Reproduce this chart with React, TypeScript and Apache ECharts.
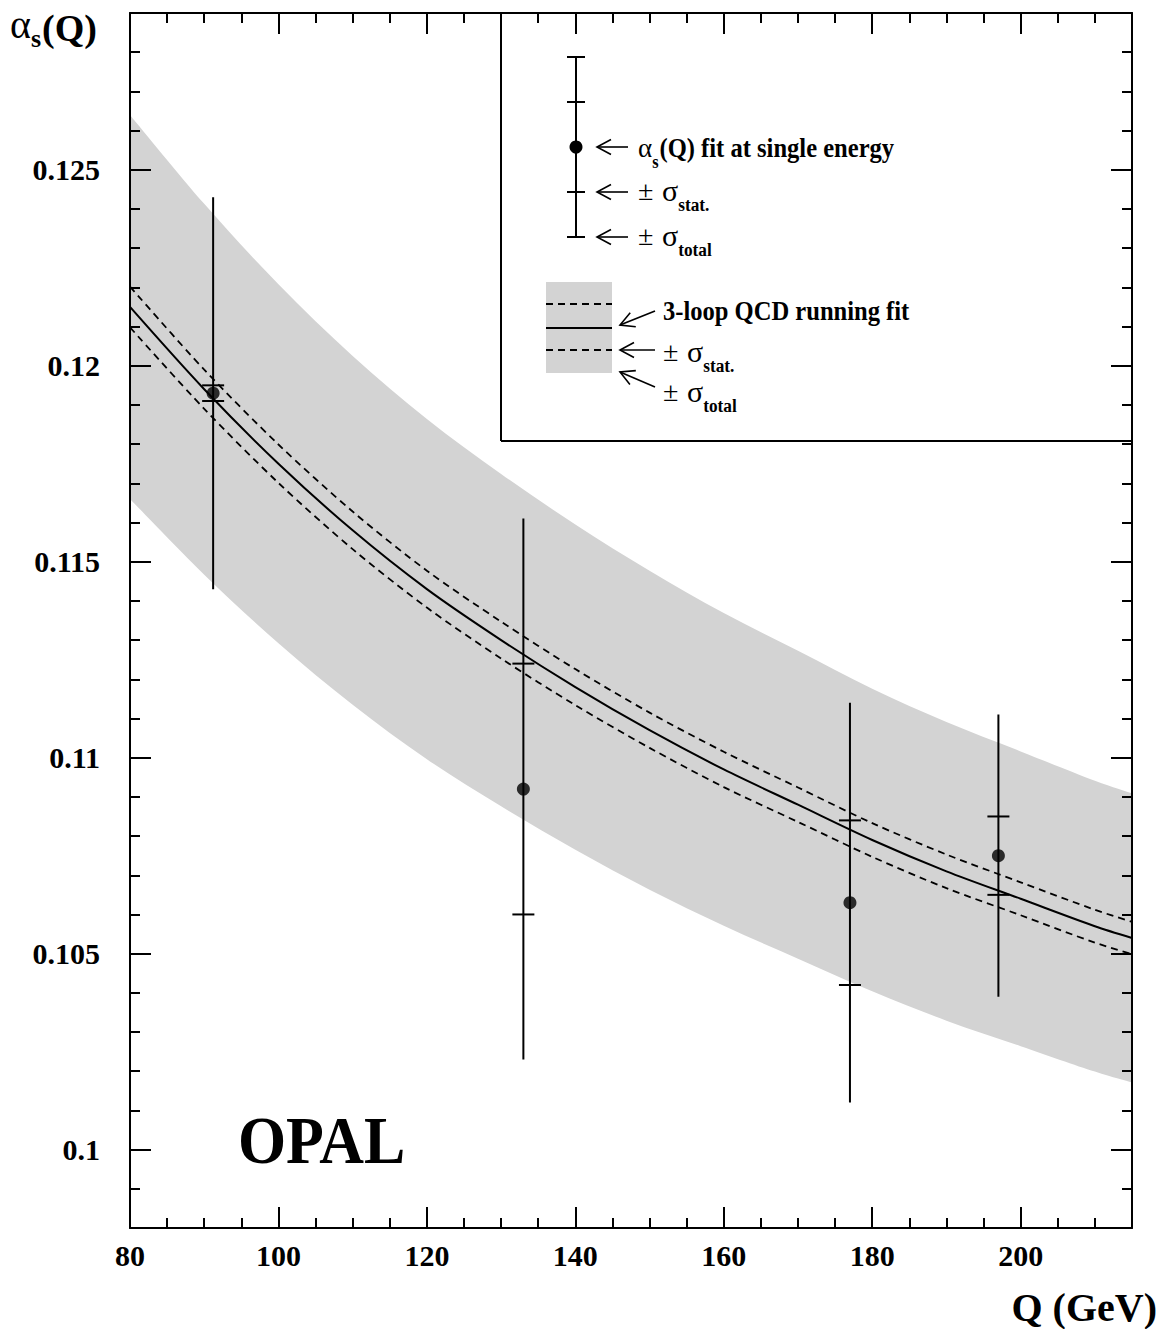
import React, { useEffect, useRef } from 'react';
import * as echarts from 'echarts';

// ---- fitted curve (3-loop QCD running) ----
const curveQ = [80, 90, 100, 110, 120, 130, 140, 150, 160, 170, 180, 190, 200, 210, 215];
const fitCentral = [0.1215, 0.1194, 0.1175, 0.1158, 0.1143, 0.1130, 0.1118, 0.1107, 0.1097, 0.1088, 0.1079, 0.1071, 0.1064, 0.1057, 0.1054];
const fitStatUp = [0.12202, 0.1199, 0.11799, 0.11628, 0.11477, 0.11347, 0.11226, 0.11115, 0.11015, 0.10924, 0.10833, 0.10753, 0.10682, 0.10612, 0.10581];
const fitStatLo = [0.12098, 0.1189, 0.11701, 0.11532, 0.11383, 0.11253, 0.11134, 0.11025, 0.10925, 0.10836, 0.10747, 0.10667, 0.10598, 0.10528, 0.10499];
const fitTotalUp = [0.1264, 0.12413, 0.12208, 0.12025, 0.11864, 0.11724, 0.11595, 0.11477, 0.11369, 0.11273, 0.11176, 0.11091, 0.11016, 0.10941, 0.10909];
const fitTotalLo = [0.1166, 0.11467, 0.11292, 0.11135, 0.10996, 0.10876, 0.10765, 0.10663, 0.10571, 0.10487, 0.10404, 0.10329, 0.10264, 0.10199, 0.10171];

// ---- single-energy fits ----
const pointQ = [91.2, 133, 177, 197];
const pointAlpha = [0.1193, 0.1092, 0.1063, 0.1075];
const pointStatErr = [0.0002, 0.0032, 0.0021, 0.001];
const pointTotalErr = [0.005, 0.0069, 0.0051, 0.0036];

// ---- axes ----
const xTickLabels = ['80', '100', '120', '140', '160', '180', '200'];
const yTickLabels = ['0.1', '0.105', '0.11', '0.115', '0.12', '0.125'];
const xRange = [80, 215];
const yRange = [0.098, 0.129];

const SERIF = 'Liberation Serif, Times New Roman, serif';

// Catmull-Rom smoothed path segment through pixel points (without the initial M)
function smoothSegs(p: number[][]): string {
  let d = '';
  for (let i = 0; i < p.length - 1; i++) {
    const p0 = p[Math.max(0, i - 1)];
    const p1 = p[i];
    const p2 = p[i + 1];
    const p3 = p[Math.min(p.length - 1, i + 2)];
    const c1x = p1[0] + (p2[0] - p0[0]) / 6;
    const c1y = p1[1] + (p2[1] - p0[1]) / 6;
    const c2x = p2[0] - (p3[0] - p1[0]) / 6;
    const c2y = p2[1] - (p3[1] - p1[1]) / 6;
    d += ` C ${c1x} ${c1y} ${c2x} ${c2y} ${p2[0]} ${p2[1]}`;
  }
  return d;
}

export default function App() {
  const ref = useRef<HTMLDivElement>(null);

  useEffect(() => {
    document.body.style.margin = '0';
    const el = ref.current!;
    const chart = echarts.init(el, undefined, { renderer: 'svg' });

    const cv = document.createElement('canvas').getContext('2d')!;
    const tw = (t: string, font: string) => {
      cv.font = font;
      return cv.measureText(t).width;
    };
    const fnt = (size: number, bold: boolean) => `${bold ? 'bold ' : ''}${size}px ${SERIF}`;
    const txt = (x: number, y: number, text: string, size: number, bold: boolean, align = 'left', sx = 1) => ({
      type: 'text',
      x,
      y,
      scaleX: sx,
      z: 20,
      style: {
        text,
        font: fnt(size, bold),
        fill: '#000',
        textAlign: align,
        textVerticalAlign: 'middle',
        align,
        verticalAlign: 'middle',
      },
    });
    const ln = (x1: number, y1: number, x2: number, y2: number, w = 2, dash?: number[]) => ({
      type: 'line',
      z: 20,
      shape: { x1, y1, x2, y2 },
      style: { stroke: '#000', lineWidth: w, lineDash: dash },
    });
    const arrow = (hx: number, hy: number, tx: number, ty: number) => {
      const dx = tx - hx;
      const dy = ty - hy;
      const L = Math.hypot(dx, dy);
      const ux = dx / L;
      const uy = dy / L;
      const a = 14;
      const b = 7.5;
      return [
        ln(hx, hy, tx, ty, 1.6),
        {
          type: 'polyline',
          z: 20,
          shape: {
            points: [
              [hx + ux * a - uy * b, hy + uy * a + ux * b],
              [hx, hy],
              [hx + ux * a + uy * b, hy + uy * a - ux * b],
            ],
          },
          style: { stroke: '#000', lineWidth: 1.6, fill: 'none' },
        },
      ];
    };
    const SQ = 0.91; // horizontal squeeze of the legend lettering
    // "± σ_sub" composite
    const pmSigma = (x0: number, ym: number, sub: string) => {
      const sx = x0 + 24;
      const sw = tw('σ', fnt(30, false));
      return [
        txt(x0, ym, '±', 28, false),
        txt(sx, ym, 'σ', 30, false),
        txt(sx + sw, ym + 15, sub, 19, true, 'left', SQ),
      ];
    };

    const alphaW = tw('α', fnt(27, false));
    const sW = tw('s', fnt(18, true)) * SQ;
    const titleAlphaW = tw('α', fnt(40, false));
    const titleSW = tw('s', fnt(26, true));

    const graphic: any[] = [
      // y-axis title
      txt(10, 24, 'α', 40, false),
      txt(10 + titleAlphaW, 38, 's', 26, true),
      txt(10 + titleAlphaW + titleSW + 1, 28, '(Q)', 38, true),
      // x-axis title
      txt(1157, 1307, 'Q (GeV)', 40, true, 'right'),
      // OPAL
      txt(238, 1140, 'OPAL', 68, true, 'left', SQ),
      // legend box edges
      ln(501, 13, 501, 441, 2),
      ln(501, 441, 1132, 441, 2),
      // legend: point marker with error bars
      ln(576, 57, 576, 237, 2),
      ln(567, 57, 585, 57, 2),
      ln(567, 102, 585, 102, 2),
      ln(567, 192, 585, 192, 2),
      ln(567, 237, 585, 237, 2),
      { type: 'circle', z: 21, shape: { cx: 576, cy: 147, r: 6.5 }, style: { fill: '#000' } },
      ...arrow(597, 147, 628, 147),
      ...arrow(597, 192, 628, 192),
      ...arrow(597, 237, 628, 237),
      txt(638, 148, 'α', 27, false),
      txt(638 + alphaW, 162, 's', 18, true, 'left', SQ),
      txt(638 + alphaW + sW + 1, 148, '(Q) fit at single energy', 27, true, 'left', SQ),
      ...pmSigma(638, 190, 'stat.'),
      ...pmSigma(638, 235, 'total'),
      // legend: band
      { type: 'rect', z: 19, shape: { x: 546, y: 282, width: 66, height: 91 }, style: { fill: '#d3d3d3' } },
      ln(546, 304, 612, 304, 1.8, [7, 5]),
      ln(546, 328, 612, 328, 2),
      ln(546, 350, 612, 350, 1.8, [7, 5]),
      ...arrow(620, 325, 655, 311),
      ...arrow(620, 350, 655, 350),
      ...arrow(620, 372, 655, 387),
      txt(663, 311, '3-loop QCD running fit', 27, true, 'left', SQ),
      ...pmSigma(663, 351, 'stat.'),
      ...pmSigma(663, 391, 'total'),
    ];

    const axisFont = { fontFamily: SERIF, fontWeight: 'bold' as const, fontSize: 30, color: '#000' };
    const lineBlack = { color: '#000', width: 2 };

    const xFmt = (v: number) => {
      const r = Math.round(v);
      const s = String(r);
      return Math.abs(v - r) < 1e-6 && xTickLabels.includes(s) ? s : '';
    };
    const yFmt = (v: number) => {
      const s = String(parseFloat(v.toFixed(4)));
      return yTickLabels.includes(s) ? s : '';
    };

    const xMajor = (pos: string, labels: boolean) => ({
      type: 'value',
      position: pos,
      min: xRange[0],
      max: xRange[1],
      minInterval: 20,
      maxInterval: 20,
      z: 5,
      axisLine: { show: true, onZero: false, lineStyle: lineBlack },
      axisTick: { show: true, inside: true, length: 21, lineStyle: lineBlack },
      axisLabel: labels ? { show: true, formatter: xFmt, margin: 12, ...axisFont } : { show: false },
      splitLine: { show: false },
    });
    const xMinor = (pos: string) => ({
      type: 'value',
      position: pos,
      min: xRange[0],
      max: xRange[1],
      interval: 5,
      z: 5,
      axisLine: { show: false },
      axisTick: { show: true, inside: true, length: 10, lineStyle: lineBlack },
      axisLabel: { show: false },
      splitLine: { show: false },
    });
    const yMajor = (pos: string, labels: boolean) => ({
      type: 'value',
      position: pos,
      min: yRange[0],
      max: yRange[1],
      minInterval: 0.005,
      maxInterval: 0.005,
      z: 5,
      axisLine: { show: true, onZero: false, lineStyle: lineBlack },
      axisTick: { show: true, inside: true, length: 21, lineStyle: lineBlack },
      axisLabel: labels ? { show: true, formatter: yFmt, margin: 30, ...axisFont } : { show: false },
      splitLine: { show: false },
    });
    const yMinor = (pos: string) => ({
      type: 'value',
      position: pos,
      min: yRange[0],
      max: yRange[1],
      interval: 0.001,
      z: 5,
      axisLine: { show: false },
      axisTick: { show: true, inside: true, length: 10, lineStyle: lineBlack },
      axisLabel: { show: false },
      splitLine: { show: false },
    });

    const pairs = (ys: number[]) => curveQ.map((q, i) => [q, ys[i]]);

    const option: any = {
      animation: false,
      backgroundColor: '#fff',
      grid: { left: 130, right: 35, top: 13, bottom: 101, containLabel: false },
      xAxis: [xMajor('bottom', true), xMinor('bottom'), xMajor('top', false), xMinor('top')],
      yAxis: [yMajor('left', true), yMinor('left'), yMajor('right', false), yMinor('right')],
      series: [
        {
          type: 'custom',
          name: 'total band',
          z: 1,
          silent: true,
          data: curveQ.map((q, i) => [q, fitTotalLo[i], fitTotalUp[i]]),
          encode: { x: 0, y: [1, 2] },
          renderItem: (params: any, api: any) => {
            if (params.dataIndex !== 0) return null;
            const up: number[][] = curveQ.map((q, i) => api.coord([q, fitTotalUp[i]]));
            const lo: number[][] = curveQ.map((q, i) => api.coord([q, fitTotalLo[i]])).reverse();
            const d =
              `M ${up[0][0]} ${up[0][1]}` +
              smoothSegs(up) +
              ` L ${lo[0][0]} ${lo[0][1]}` +
              smoothSegs(lo) +
              ' Z';
            return { type: 'path', shape: { pathData: d }, style: { fill: '#d3d3d3', stroke: 'none' } };
          },
        },
        {
          type: 'line',
          name: 'stat up',
          z: 2,
          data: pairs(fitStatUp),
          showSymbol: false,
          smooth: 0.3,
          lineStyle: { color: '#000', width: 1.8, type: [7, 5] },
        },
        {
          type: 'line',
          name: 'stat lo',
          z: 2,
          data: pairs(fitStatLo),
          showSymbol: false,
          smooth: 0.3,
          lineStyle: { color: '#000', width: 1.8, type: [7, 5] },
        },
        {
          type: 'line',
          name: 'fit',
          z: 2,
          data: pairs(fitCentral),
          showSymbol: false,
          smooth: 0.3,
          lineStyle: { color: '#000', width: 2 },
        },
        {
          type: 'custom',
          name: 'error bars',
          z: 3,
          data: pointQ.map((q, i) => [q, pointAlpha[i], pointStatErr[i], pointTotalErr[i]]),
          encode: { x: 0, y: 1 },
          renderItem: (params: any, api: any) => {
            const x = api.value(0);
            const y = api.value(1);
            const s = api.value(2);
            const t = api.value(3);
            const tTop = api.coord([x, y + t]);
            const tBot = api.coord([x, y - t]);
            const sTop = api.coord([x, y + s]);
            const sBot = api.coord([x, y - s]);
            const st = { stroke: '#000', lineWidth: 2 };
            return {
              type: 'group',
              children: [
                { type: 'line', shape: { x1: tTop[0], y1: tTop[1], x2: tBot[0], y2: tBot[1] }, style: st },
                { type: 'line', shape: { x1: sTop[0] - 11, y1: sTop[1], x2: sTop[0] + 11, y2: sTop[1] }, style: st },
                { type: 'line', shape: { x1: sBot[0] - 11, y1: sBot[1], x2: sBot[0] + 11, y2: sBot[1] }, style: st },
              ],
            };
          },
        },
        {
          type: 'scatter',
          name: 'alpha_s',
          z: 4,
          data: pointQ.map((q, i) => [q, pointAlpha[i]]),
          symbol: 'circle',
          symbolSize: 13,
          itemStyle: { color: '#000' },
        },
      ],
      graphic,
    };

    chart.setOption(option);
    return () => chart.dispose();
  }, []);

  return <div ref={ref} style={{ width: 1167, height: 1329, position: 'absolute', left: 0, top: 0 }} />;
}
